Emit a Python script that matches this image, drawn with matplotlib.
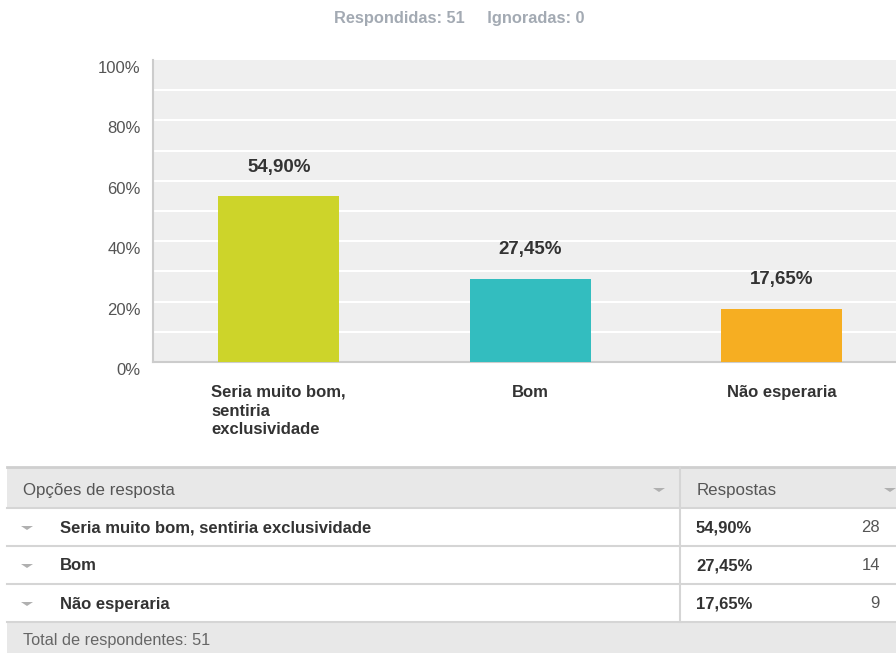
import matplotlib.pyplot as plt
import matplotlib.transforms as mtransforms
from matplotlib import patches

plt.rcParams['font.family'] = ['Liberation Sans', 'DejaVu Sans']

categories = ['Seria muito bom,\nsentiria\nexclusividade', 'Bom', 'Não esperaria']
table_names = ['Seria muito bom, sentiria exclusividade', 'Bom', 'Não esperaria']
percent = [54.90, 27.45, 17.65]
counts = [28, 14, 9]
bar_colors = ['#CDD42A', '#33BDBF', '#F6AE22']
answered = 51
skipped = 0

W, H = 896, 653
fig = plt.figure(figsize=(W / 100, H / 100), dpi=100)


def fx(px):
    return px / W


def fy(py):
    return 1 - py / H


# chart area
ax = fig.add_axes([fx(153), fy(362), fx(896 - 153), (362 - 60) / H])
ax.set_facecolor('#efefef')
xs = range(len(categories))
ax.bar(xs, percent, width=0.48, color=bar_colors, zorder=3)
ax.set_xlim(-0.5, 2.455)
ax.set_ylim(0, 100)

for y in range(10, 100, 10):
    ax.axhline(y, color='white', lw=1.5, zorder=1)

for x, v in zip(xs, percent):
    ax.annotate(f'{v:.2f}%'.replace('.', ','), xy=(x, v), xytext=(0, 21),
                textcoords='offset points', ha='center', va='center',
                fontsize=13.5, fontweight='bold', color='#333333')

for s in ['top', 'right']:
    ax.spines[s].set_visible(False)
for s in ['left', 'bottom']:
    ax.spines[s].set_color('#cccccc')
    ax.spines[s].set_linewidth(1.5)

ax.set_yticks(range(0, 101, 20))
ax.set_yticklabels([f'{v}%' for v in range(0, 101, 20)], fontsize=12, color='#555555')
ax.tick_params(axis='y', length=0, pad=9)
off = mtransforms.ScaledTranslation(0, -7 / 100, fig.dpi_scale_trans)
for lab in ax.get_yticklabels():
    lab.set_transform(lab.get_transform() + off)

ax.set_xticks(list(xs))
ax.set_xticklabels(categories, fontsize=12, fontweight='bold', color='#333333')
ax.tick_params(axis='x', length=0, pad=16.5)
for lab in ax.get_xticklabels():
    lab.set_multialignment('left')
    lab.set_linespacing(1.3)

# header
fig.text(fx(459), fy(18), f'Respondidas: {answered}     Ignoradas: {skipped}',
         ha='center', va='center', fontsize=11.8, fontweight='bold', color='#a3aab3')

# table
def rect(x0, y0, x1, y1, color):
    fig.patches.append(patches.Rectangle((fx(x0), fy(y1)), fx(x1 - x0), (y1 - y0) / H,
                                         transform=fig.transFigure, facecolor=color,
                                         edgecolor='none', zorder=0))


def hline(y, x0=7, x1=896, color='#d5d5d5', lw=1.5):
    fig.add_artist(plt.Line2D([fx(x0), fx(x1)], [fy(y), fy(y)], color=color, lw=lw))


def arrow(x, y):
    fig.add_artist(patches.Polygon([(fx(x - 6), fy(y - 2)), (fx(x + 6), fy(y - 2)), (fx(x), fy(y + 2))],
                                   closed=True, transform=fig.transFigure,
                                   facecolor='#b0b0b0', edgecolor='none'))


rect(7, 467, 896, 508, '#e8e8e8')
rect(7, 622, 896, 653, '#e8e8e8')
hline(467, color='#cfcfcf', lw=2)
hline(508)
row_tops = [508, 546, 584]
for i, (name, p, c) in enumerate(zip(table_names, percent, counts)):
    y0 = row_tops[i]
    yc = y0 + 20
    hline(y0 + 38)
    arrow(27, yc)
    fig.text(fx(60), fy(yc), name, ha='left', va='center', fontsize=12,
             fontweight='bold', color='#333333')
    fig.text(fx(696), fy(yc), f'{p:.2f}%'.replace('.', ','), ha='left', va='center',
             fontsize=12, fontweight='bold', color='#333333')
    fig.text(fx(880), fy(yc), str(c), ha='right', va='center', fontsize=12, color='#555555')

fig.add_artist(plt.Line2D([fx(680), fx(680)], [fy(467), fy(622)], color='#d5d5d5', lw=1.5))
fig.text(fx(23), fy(490), 'Opções de resposta', ha='left', va='center', fontsize=12.2, color='#555555')
fig.text(fx(697), fy(490), 'Respostas', ha='left', va='center', fontsize=12.2, color='#555555')
arrow(659, 490)
arrow(890, 490)
fig.text(fx(23), fy(640), f'Total de respondentes: {answered}', ha='left', va='center',
         fontsize=11.7, color='#666666')

fig.savefig('out.png', dpi=100)
